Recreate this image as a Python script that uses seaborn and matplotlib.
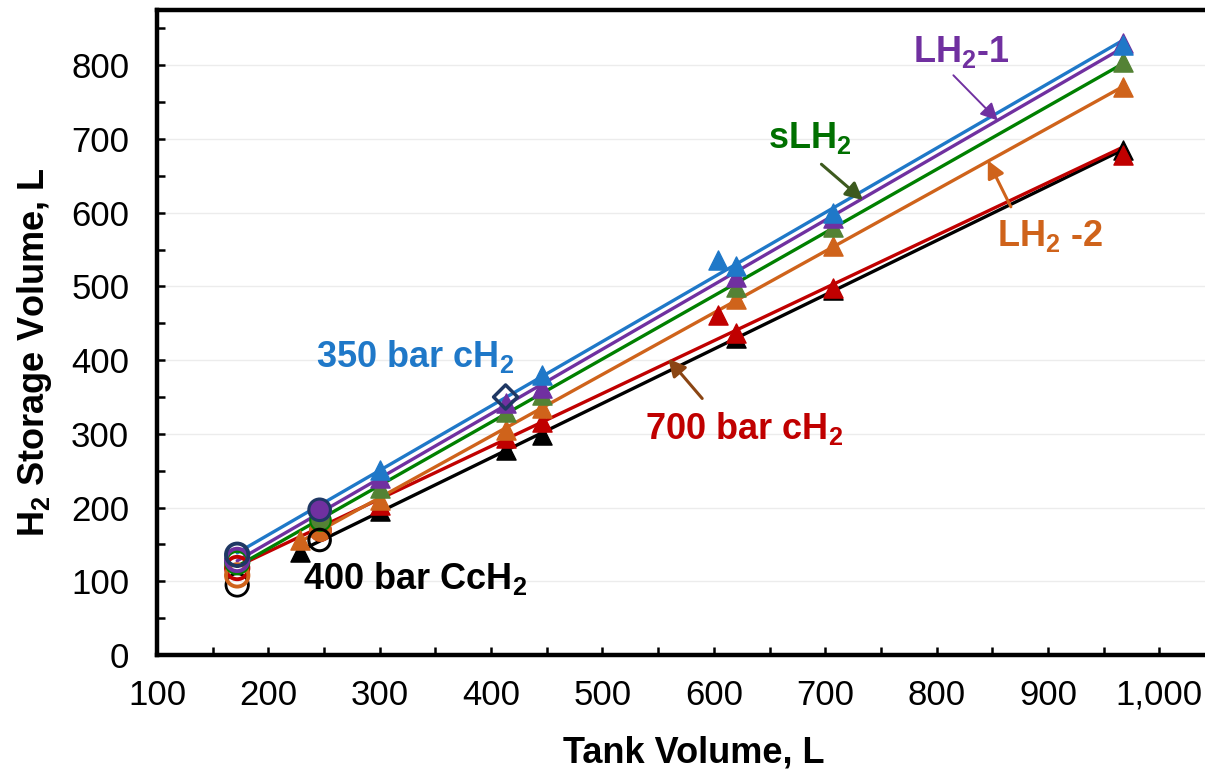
import numpy as np
import seaborn as sns
import matplotlib
matplotlib.use("Agg")
import matplotlib.pyplot as plt
from matplotlib.ticker import MultipleLocator, FuncFormatter

# Tank volume (L) vs. usable H2 storage volume (L) for each storage option
ch350_x = [172, 246, 300, 413, 446, 604, 620, 707, 967]
ch350_y = [136, 197, 251, 350, 380, 536, 528, 600, 828]

lh2_1_x = [172, 246, 300, 413, 446, 620, 707, 967]
lh2_1_y = [129, 197, 240, 342, 362, 513, 593, 830]

slh2_x = [172, 246, 300, 413, 446, 620, 707, 967]
slh2_y = [126, 183, 226, 330, 353, 499, 580, 805]

lh2_2_x = [228, 246, 300, 413, 446, 620, 707, 967]
lh2_2_y = [156, 170, 210, 305, 335, 483, 555, 770]
lh2_2_extra_x = [172]
lh2_2_extra_y = [108]

ch700_x = [172, 246, 300, 413, 446, 604, 620, 707, 967]
ch700_y = [118, 170, 203, 294, 316, 461, 437, 498, 678]

cch400_x = [228, 246, 300, 413, 446, 620, 707, 967]
cch400_y = [140, 156, 195, 278, 298, 430, 495, 685]
cch400_extra_x = [172]
cch400_extra_y = [95]

x_ticks = [100, 200, 300, 400, 500, 600, 700, 800, 900, 1000]
y_ticks = [0, 100, 200, 300, 400, 500, 600, 700, 800]

sns.set_style("white")
plt.rcParams["font.family"] = ["Liberation Sans", "DejaVu Sans"]
plt.rcParams["mathtext.fontset"] = "custom"
plt.rcParams["mathtext.bf"] = "Liberation Sans:bold"
plt.rcParams["mathtext.rm"] = "Liberation Sans"
plt.rcParams["mathtext.default"] = "bf"

BLUE = "#1f78c8"
NAVY = "#1f3864"
PURPLE = "#7030a0"
GREEN_LINE = "#008000"
GREEN_MK = "#548235"
ORANGE = "#cf631b"
RED = "#c00000"
BLACK = "#000000"

fig = plt.figure(figsize=(12.05, 7.69), dpi=100)
ax = fig.add_axes([157 / 1205, 1 - 655 / 769, 1 - 157 / 1205, (655 - 10) / 769])

series = [
    (cch400_x, cch400_y, BLACK),
    (ch700_x, ch700_y, RED),
    (lh2_2_x, lh2_2_y, ORANGE),
    (slh2_x, slh2_y, GREEN_LINE),
    (lh2_1_x, lh2_1_y, PURPLE),
    (ch350_x, ch350_y, BLUE),
]

# linear fit line for each series
for xs, ys, lc in series:
    sns.regplot(x=np.array(xs, float), y=np.array(ys, float), ax=ax,
                scatter=False, ci=None, truncate=True,
                line_kws=dict(color=lc, lw=2.4, zorder=3))


def draw_points(xs, ys, color, edge, diamond_at=None, open_mid=False):
    xs = np.asarray(xs, float)
    ys = np.asarray(ys, float)
    small = xs < 200
    mid = (xs > 240) & (xs < 250)
    rest = ~(small | mid)
    if diamond_at is not None:
        dmask = np.isclose(xs, diamond_at)
        rest = rest & ~dmask
        ax.scatter(xs[dmask], ys[dmask], marker="D", s=150, facecolors="none",
                   edgecolors=NAVY, linewidths=2.5, zorder=6)
    if small.any():
        ax.scatter(xs[small], ys[small], marker="o", s=260, facecolors="none",
                   edgecolors=edge, linewidths=2.8, zorder=5)
    if mid.any():
        if open_mid:
            ax.scatter(xs[mid], ys[mid], marker="o", s=240, facecolors="none",
                       edgecolors=edge, linewidths=2.2, zorder=6)
        else:
            ax.scatter(xs[mid], ys[mid], marker="o", s=220, color=color,
                       edgecolors=edge, linewidths=1.5, zorder=5)
    ax.scatter(xs[rest], ys[rest], marker="^", s=190, color=color,
               edgecolors=color, linewidths=1.0, zorder=5)


draw_points(cch400_x, cch400_y, BLACK, BLACK, open_mid=True)
ax.scatter(cch400_extra_x, cch400_extra_y, marker="o", s=260, facecolors="none",
           edgecolors=BLACK, linewidths=2.0, zorder=5)
draw_points(ch700_x, ch700_y, RED, RED)
draw_points(lh2_2_x, lh2_2_y, ORANGE, ORANGE)
ax.scatter(lh2_2_extra_x, lh2_2_extra_y, marker="o", s=260, facecolors="none",
           edgecolors=ORANGE, linewidths=2.8, zorder=5)
draw_points(slh2_x, slh2_y, GREEN_MK, GREEN_LINE)
draw_points(lh2_1_x, lh2_1_y, PURPLE, PURPLE)
draw_points(ch350_x, ch350_y, BLUE, NAVY, diamond_at=413, open_mid=True)

# axes styling
ax.set_xlim(100, 1041)
ax.set_ylim(0, 875)
ax.set_xticks(x_ticks)
ax.set_yticks(y_ticks)
ax.xaxis.set_minor_locator(MultipleLocator(50))
ax.yaxis.set_minor_locator(MultipleLocator(50))
ax.xaxis.set_major_formatter(FuncFormatter(lambda v, p: f"{v:,.0f}"))
ax.tick_params(which="both", direction="in", length=6, width=1.8, colors="black",
               labelsize=25, bottom=True, left=True, top=False, right=False)
ax.tick_params(axis="x", pad=17)
ax.tick_params(axis="y", pad=20)
ax.yaxis.grid(True, color="#ececec", lw=1.0)
ax.xaxis.grid(False)
ax.set_axisbelow(True)
for side in ["left", "bottom", "top"]:
    ax.spines[side].set_color("black")
    ax.spines[side].set_linewidth(3.2)
ax.spines["right"].set_visible(False)

ax.set_xlabel("Tank Volume, L", fontsize=26, fontweight="bold", color="black")
ax.set_ylabel("H$_2$ Storage Volume, L", fontsize=26, fontweight="bold", color="black")
ax.xaxis.set_label_coords(0.512, -0.125)
ax.yaxis.set_label_coords(-0.098, 0.47)

# series labels
fs = 26
ax.text(332, 405, "350 bar cH$_2$", color=BLUE, fontsize=fs, fontweight="bold",
        ha="center", va="center")
ax.text(332, 104, "400 bar CcH$_2$", color=BLACK, fontsize=fs, fontweight="bold",
        ha="center", va="center")
ax.annotate("LH$_2$-1", xy=(855, 725), xytext=(822, 818), color=PURPLE,
            fontsize=fs, fontweight="bold", ha="center", va="center",
            arrowprops=dict(arrowstyle="-|>", color=PURPLE, lw=1.4,
                            mutation_scale=26, shrinkA=2, shrinkB=0,
                            relpos=(0.33, 0.1)))
ax.annotate("sLH$_2$", xy=(734, 617), xytext=(686, 702), color="#007000",
            fontsize=fs, fontweight="bold", ha="center", va="center",
            arrowprops=dict(arrowstyle="-|>", color="#3d5a1e", lw=2.2,
                            mutation_scale=26, shrinkA=6, shrinkB=0,
                            relpos=(0.52, 0.0)))
ax.annotate("LH$_2$ -2", xy=(846, 671), xytext=(902, 569), color=ORANGE,
            fontsize=fs, fontweight="bold", ha="center", va="center",
            arrowprops=dict(arrowstyle="-|>", color=ORANGE, lw=2.2,
                            mutation_scale=26, shrinkA=6, shrinkB=0,
                            relpos=(0.18, 1.0)))
ax.annotate("700 bar cH$_2$", xy=(559, 402), xytext=(627, 307), color=RED,
            fontsize=fs, fontweight="bold", ha="center", va="center",
            arrowprops=dict(arrowstyle="-|>", color="#8b4513", lw=2.2,
                            mutation_scale=26, shrinkA=8, shrinkB=0,
                            relpos=(0.34, 1.0)))

fig.savefig("out.png", dpi=100)
